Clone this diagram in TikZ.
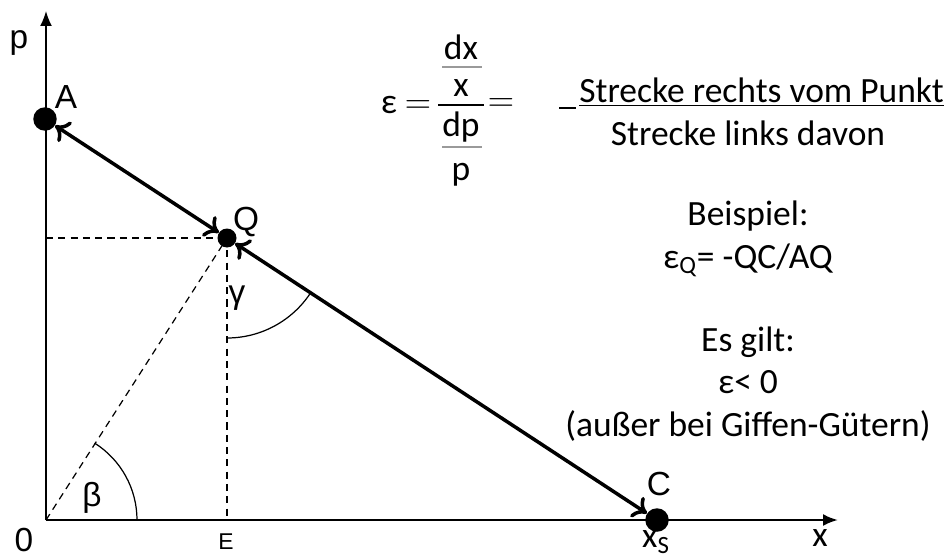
\documentclass[tikz,border=0pt]{standalone}
\usepackage{fontspec}
\setmainfont{Carlito}
\newfontfamily\arial{Liberation Sans}
\usetikzlibrary{arrows.meta,positioning,calc}
\definecolor{fracgray}{HTML}{9a9a9a}

\begin{document}
\begin{tikzpicture}[x=0.02cm, y=0.02cm,
  dot/.style={circle, fill=black, inner sep=0pt, minimum size=4.7mm},
  lbl/.style={font=\arial\fontsize{19}{21}\selectfont, inner sep=0pt},
  txt/.style={font=\fontsize{20.2}{24}\selectfont, inner sep=0pt, align=center},
  seg/.style={line width=2pt, {To[length=2.6mm, width=4.8mm]}-{To[length=2.6mm, width=4.8mm]}},
  hilf/.style={line width=0.7pt, dash pattern=on 4pt off 3pt}]
\useasboundingbox (0,0) rectangle (946,559);
% axes
\coordinate (O) at (46,39);
\coordinate (xend) at (838,39);
\coordinate (yend) at (46,548);
\draw[line width=1.4pt, -{Latex[length=3mm, width=2.4mm]}] (O) -- (xend);
\draw[line width=0.9pt, -{Latex[length=3mm, width=2.4mm]}] (O) -- (yend);
% points on the line
\node[dot] (A) at (45,440) {};
\node[dot, minimum size=3.8mm] (Q) at (227,321) {};
\node[dot] (C) at (657,39) {};
\coordinate (pQ) at (46,321);
\coordinate (E) at (227,39);
\foreach \a/\b in {A/Q, Q/C} \draw[seg] (\a) -- (\b);
\draw[hilf] (pQ) -- (Q.center);
\draw[hilf] (Q.center) -- (E);
\draw[hilf] (O) -- (Q.center);
% angles
\draw[line width=0.7pt] ($(Q.center)+(0,-100)$) arc[start angle=-90, end angle=-33.4, radius=2cm];
\draw[line width=0.7pt] ($(O)+(91,0)$) arc[start angle=0, end angle=57.7, radius=1.82cm];
% labels
\node[lbl] (lp) at (19,516) {p};
\node[lbl] (lA) at (66,462) {A};
\node[lbl] (lQ) at (246,337) {Q};
\node[lbl] (lg) at (237,261) {γ};
\node[lbl] (lb) at (92,61) {β};
\node[lbl] (l0) at (24,19) {0};
\node[lbl, font=\arial\fontsize{13}{15}\selectfont] (lE) at (226,17) {E};
\node[lbl] (lC) at (659,75) {C};
\node[txt] (lxs) at (656,17) {x\textsubscript{S}};
\node[txt] (lx) at (820,21) {x};
% formula
\node[txt] (eps) at (406,454) {ε $=$};
\node[txt] (dx) at (461,512) {dx};
\node[txt] (xx) at (461,471) {x};
\node[txt] (dp) at (461,432) {dp};
\node[txt] (pp) at (461,384) {p};
\node[txt] (eq) at (501,454) {$=$};
\draw[fracgray, line width=0.6pt] (442,492) -- (482,492);
\draw[line width=0.8pt] (438,454) -- (484,454);
\draw[fracgray, line width=0.6pt] (442,412) -- (482,412);
\draw[line width=1.7pt] (559,451) -- (576,451);
\node[txt, anchor=west] (rechts) at (579,467) {\underline{Strecke rechts vom Punkt}};
\node[txt] (links) at (748,426) {Strecke links davon};
\node[txt] (bsp) at (748,320) {Beispiel:\\ε\textsubscript{Q}= -QC/AQ};
\node[txt] (gilt) at (748,175) {Es gilt:\\ε< 0\\(außer bei Giffen-Gütern)};
\end{tikzpicture}
\end{document}
